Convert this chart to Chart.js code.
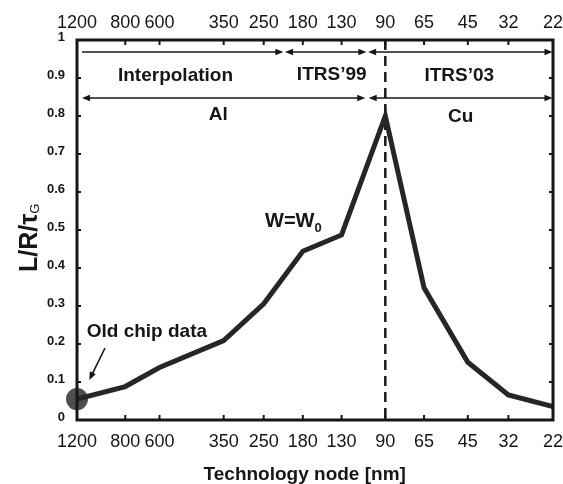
<!DOCTYPE html>
<html>
<head>
<meta charset="utf-8">
<script src="https://cdn.jsdelivr.net/npm/chart.js@4.4.0/dist/chart.umd.min.js"></script>
<style>
  html, body { margin: 0; padding: 0; background: #fff; }
  #wrap { width: 563px; height: 484px; }
</style>
</head>
<body>
<div id="wrap"><canvas id="chart" width="563" height="484"></canvas></div>
<script>
// technology nodes in nm (reversed log axis, top and bottom)
const nodes = [1200, 800, 600, 350, 250, 180, 130, 90, 65, 45, 32, 22];
// L/R/tau_G for W = W0
const lrRatio = [0.055, 0.088, 0.138, 0.209, 0.306, 0.444, 0.487, 0.80, 0.348, 0.152, 0.066, 0.035];
const yTicks = [0, 0.1, 0.2, 0.3, 0.4, 0.5, 0.6, 0.7, 0.8, 0.9, 1];
// node where Al gives way to Cu
const cuNode = 90;

const FONT = "'Liberation Sans', Arial, Helvetica, sans-serif";
const INK = '#161616';

Chart.defaults.font.family = FONT;
Chart.defaults.color = INK;

function head(ctx, x, y, dir) {
    ctx.beginPath();
    ctx.moveTo(x, y);
    ctx.lineTo(x - dir * 8, y - 3.3);
    ctx.lineTo(x - dir * 8, y + 3.3);
    ctx.closePath();
    ctx.fill();
}

function arrow(ctx, x1, x2, y, headL, headR) {
    ctx.beginPath();
    ctx.moveTo(x1 + (headL ? 5 : 0), y);
    ctx.lineTo(x2 - (headR ? 5 : 0), y);
    ctx.stroke();
    if (headL) head(ctx, x1, y, -1);
    if (headR) head(ctx, x2, y, 1);
}

function subText(ctx, main, sub, x, y, mainFont, subFont, drop) {
    ctx.font = mainFont;
    ctx.fillText(main, x, y);
    const w = ctx.measureText(main).width;
    ctx.font = subFont;
    ctx.fillText(sub, x + w, y + drop);
}

const decor = {
    id: 'decor',
    beforeDatasetsDraw(chart) {
        const ctx = chart.ctx;
        const { top, bottom } = chart.chartArea;
        const xs = chart.scales.x, ys = chart.scales.y;
        ctx.save();
        // old chip data marker
        ctx.fillStyle = '#4e4e4e';
        ctx.beginPath();
        ctx.arc(xs.getPixelForValue(nodes[0]), ys.getPixelForValue(lrRatio[0]), 11, 0, Math.PI * 2);
        ctx.fill();
        // dashed line at 90 nm
        const xd = xs.getPixelForValue(cuNode);
        ctx.strokeStyle = INK;
        ctx.lineWidth = 2.5;
        ctx.setLineDash([10, 6]);
        ctx.beginPath();
        ctx.moveTo(xd, top);
        ctx.lineTo(xd, bottom);
        ctx.stroke();
        ctx.restore();
    },
    afterDatasetsDraw(chart) {
        const ctx = chart.ctx;
        const { left, right, top, bottom } = chart.chartArea;
        const xs = chart.scales.x, ys = chart.scales.y;
        ctx.save();

        // frame
        ctx.strokeStyle = INK;
        ctx.lineWidth = 3;
        ctx.strokeRect(left, top, right - left, bottom - top);

        // inward tick marks
        ctx.lineWidth = 2;
        ctx.beginPath();
        nodes.forEach(v => {
            const x = xs.getPixelForValue(v);
            ctx.moveTo(x, bottom); ctx.lineTo(x, bottom - 5);
            ctx.moveTo(x, top); ctx.lineTo(x, top + 5);
        });
        yTicks.forEach(v => {
            const y = ys.getPixelForValue(v);
            ctx.moveTo(left, y); ctx.lineTo(left + 4, y);
            ctx.moveTo(right, y); ctx.lineTo(right - 4, y);
        });
        ctx.stroke();

        // period / material arrows
        ctx.fillStyle = INK;
        ctx.lineWidth = 1.6;
        const y1 = top + 12, y2 = top + 58;
        arrow(ctx, left + 5, xs.getPixelForValue(212), y1, false, true);
        arrow(ctx, xs.getPixelForValue(209), xs.getPixelForValue(105.5), y1, true, true);
        arrow(ctx, xs.getPixelForValue(104), right - 0.5, y1, true, true);
        arrow(ctx, left + 5, xs.getPixelForValue(106.5), y2, true, true);
        arrow(ctx, xs.getPixelForValue(103.5), right - 0.5, y2, true, true);

        ctx.font = 'bold 19px ' + FONT;
        ctx.textAlign = 'center';
        ctx.textBaseline = 'alphabetic';
        ctx.fillText('Interpolation', 175.5, 81);
        ctx.fillText('ITRS\u201999', 331.7, 80);
        ctx.fillText('ITRS\u201903', 459.3, 81);
        ctx.fillText('Al', 218.3, 120);
        ctx.fillText('Cu', 460.7, 121.5);

        // annotations
        ctx.textAlign = 'left';
        ctx.fillText('Old chip data', 86.7, 337);
        subText(ctx, 'W=W', '0', 265, 226.7, 'bold 20px ' + FONT, 'bold 13px ' + FONT, 5);

        const ax = 105, ay = 348, bx = 89.3, by = 380;
        ctx.lineWidth = 1.6;
        ctx.beginPath();
        ctx.moveTo(ax, ay);
        ctx.lineTo(bx + (ax - bx) * 0.2, by - (by - ay) * 0.2);
        ctx.stroke();
        const ang = Math.atan2(by - ay, bx - ax);
        ctx.beginPath();
        ctx.moveTo(bx, by);
        ctx.lineTo(bx - 8 * Math.cos(ang) + 3.3 * Math.sin(ang), by - 8 * Math.sin(ang) - 3.3 * Math.cos(ang));
        ctx.lineTo(bx - 8 * Math.cos(ang) - 3.3 * Math.sin(ang), by - 8 * Math.sin(ang) + 3.3 * Math.cos(ang));
        ctx.closePath();
        ctx.fill();

        // axis titles
        ctx.textAlign = 'center';
        ctx.font = 'bold 19px ' + FONT;
        ctx.fillText('Technology node [nm]', 304.7, 480);

        ctx.translate(37, 272);
        ctx.rotate(-Math.PI / 2);
        ctx.textAlign = 'left';
        subText(ctx, 'L/R/\u03c4', 'G', 0, 0, 'bold 25px ' + FONT, '13px ' + FONT, 2);
        ctx.restore();
    }
};

// fixed box size, and no extra side padding for the end labels
function fixHeight(h) {
    return s => {
        s.height = h;
        s.paddingLeft = 0;
        s.paddingRight = 0;
    };
}

const xAxisBase = {
    type: 'logarithmic',
    reverse: true,
    min: 22,
    max: 1200,
    grid: { display: false, drawTicks: false },
    border: { display: false },
    afterBuildTicks: s => { s.ticks = nodes.map(v => ({ value: v })); },
    ticks: {
        autoSkip: false,
        maxRotation: 0,
        font: { size: 18 },
        color: INK,
        callback: v => String(v)
    }
};

new Chart(document.getElementById('chart'), {
    type: 'line',
    data: {
        datasets: [{
            data: nodes.map((n, i) => ({ x: n, y: lrRatio[i] })),
            borderColor: '#262626',
            borderWidth: 5,
            pointRadius: 0,
            tension: 0,
            fill: false
        }]
    },
    options: {
        responsive: false,
        animation: false,
        layout: { padding: { left: 0, right: 10, top: 0, bottom: 0 } },
        plugins: { legend: { display: false }, tooltip: { enabled: false } },
        scales: {
            x: Object.assign({}, xAxisBase, {
                position: 'bottom',
                ticks: Object.assign({}, xAxisBase.ticks, { padding: 11 }),
                afterFit: fixHeight(64)
            }),
            x2: Object.assign({}, xAxisBase, {
                position: 'top',
                ticks: Object.assign({}, xAxisBase.ticks, { padding: 6 }),
                afterFit: fixHeight(40)
            }),
            y: {
                min: 0,
                max: 1,
                grid: { display: false, drawTicks: false },
                border: { display: false },
                afterBuildTicks: s => { s.ticks = yTicks.map(v => ({ value: v })); },
                afterFit: s => { s.width = 77; s.paddingTop = 0; s.paddingBottom = 0; },
                ticks: {
                    padding: 12,
                    labelOffset: -2.5,
                    font: { size: 13, weight: 'bold' },
                    color: INK,
                    callback: v => (v === 0 || v === 1) ? String(v) : v.toFixed(1)
                }
            }
        }
    },
    plugins: [decor]
});
</script>
</body>
</html>
